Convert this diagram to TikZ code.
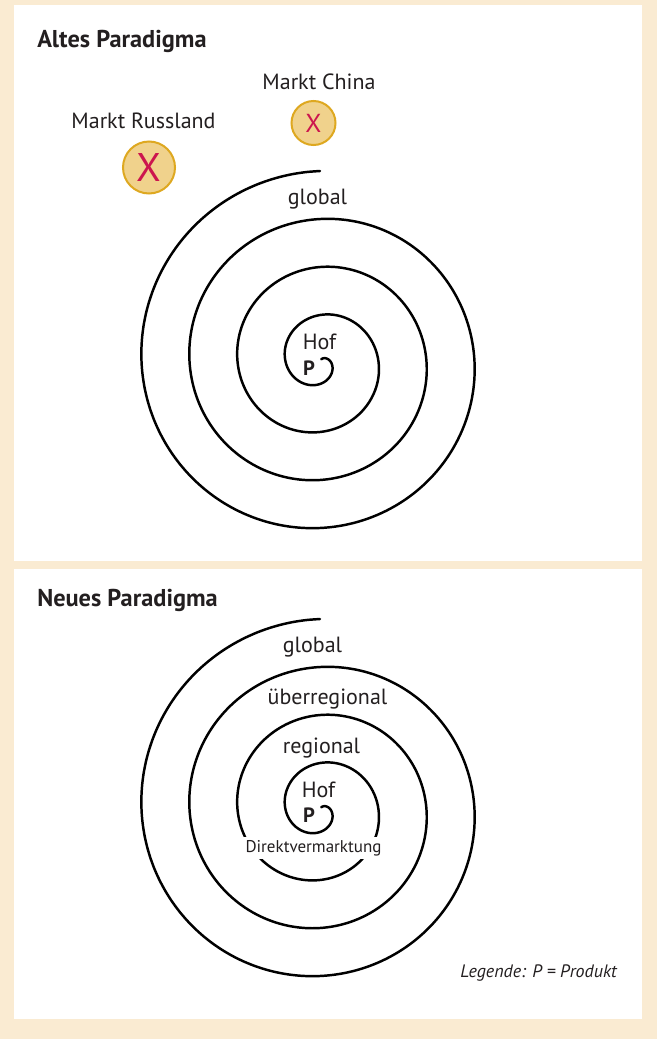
\documentclass[tikz,border=0pt]{standalone}
\usepackage{fontspec}
\setmainfont{PT Sans}
\usetikzlibrary{positioning}
\definecolor{cream}{RGB}{250,235,210}
\definecolor{gold}{RGB}{222,168,32}
\definecolor{goldfill}{RGB}{240,210,140}
\definecolor{crimson}{RGB}{204,22,78}
\definecolor{ink}{RGB}{35,31,32}
\tikzstyle{panel} = [fill=white, draw=none]
\tikzstyle{heading} = [anchor=base west, inner sep=0, text=ink, font=\fontsize{18.25}{21}\selectfont\bfseries]
\tikzstyle{ringtext} = [anchor=base, inner sep=0, text=ink, font=\fontsize{16.5}{19}\selectfont]
\tikzstyle{product} = [anchor=base, inner sep=0, text=ink, font=\fontsize{15.5}{18}\selectfont\bfseries]
\tikzstyle{market} = [circle, draw=gold, fill=goldfill, line width=1.5pt, text=crimson, inner sep=0]
\tikzstyle{spiral} = [line width=1.85pt, line cap=round]
% archimedean spiral around (320,#1), 48 units per turn
\newcommand{\farmspiral}[1]{%
  \draw[spiral] plot[domain=0:1410, samples=360, smooth]
    ({320+(190.5-\x/7.5)*cos(270-\x)}, {#1+(190.5-\x/7.5)*sin(270-\x)});}

\begin{document}
\begin{tikzpicture}[x=0.75pt, y=-0.75pt]

\fill[cream] (0,0) rectangle (657,1039);
\useasboundingbox (0,0) rectangle (657,1039);
\fill[panel] (13.5,5) rectangle (641.5,561);
\fill[panel] (13.5,569) rectangle (641.5,1019);

% old paradigm
\node(altes) [heading] at (37,47) {Altes Paradigma};

\farmspiral{361.5}

\node(russland) [ringtext] at (143.5,128) {Markt Russland};
\node(russX) [market, minimum size=39pt, font=\fontsize{30}{30}\selectfont] at (149,167.5) {X};
\node(china) [ringtext] at (319,89) {Markt China};
\node(chinaX) [market, minimum size=33pt, font=\fontsize{19.5}{20}\selectfont] at (313.5,123) {X};

\node(global1) [ringtext] at (317.5,204) {global};
\node(hof1) [ringtext] at (319.5,349.5) {Hof};
\node(p1) [product] at (309,375) {P};

% new paradigm
\node(neues) [heading] at (37,606) {Neues Paradigma};

\farmspiral{809.5}

\node(global2) [ringtext] at (312.5,652) {global};
\node(ueber) [ringtext] at (327.5,704) {überregional};
\node(regional) [ringtext] at (321.5,753) {regional};
\node(hof2) [ringtext] at (318.5,797) {Hof};
\node(p2) [product] at (309,822) {P};
\node(direkt) [ringtext, fill=white, inner xsep=2pt, inner ysep=2.5pt, font=\fontsize{12.75}{15}\selectfont] at (313.5,852) {Direktvermarktung};

\node(legende) [anchor=base east, inner sep=0, text=ink, font=\fontsize{13.5}{16}\selectfont\itshape] at (617,977) {Legende: P = Produkt};

\end{tikzpicture}
\end{document}
